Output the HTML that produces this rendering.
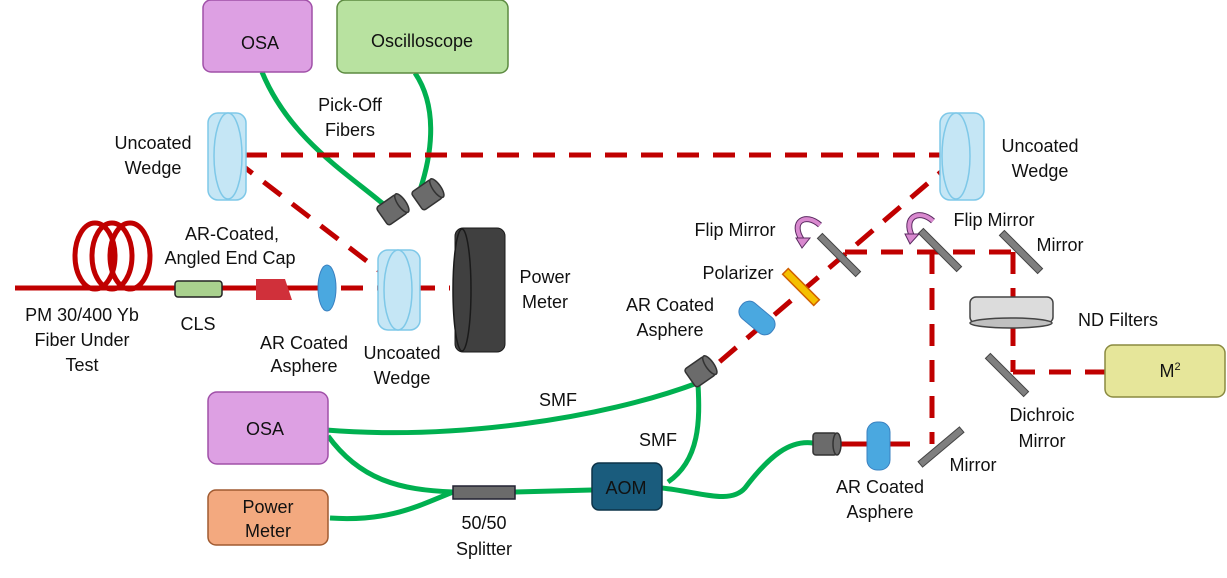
<!DOCTYPE html>
<html><head><style>
html,body{margin:0;padding:0;background:#fff;}
svg{display:block;}
text{font-family:"Liberation Sans",sans-serif;font-size:18px;fill:#111;text-anchor:middle;}
</style></head><body>
<svg width="1227" height="578" viewBox="0 0 1227 578" xmlns="http://www.w3.org/2000/svg">
<defs>
<g id="coll"><rect x="-12" y="-11" width="24" height="22" rx="3" fill="#6b6b6b" stroke="#333" stroke-width="1.5"/><ellipse cx="12" cy="0" rx="4" ry="11" fill="#6b6b6b" stroke="#333" stroke-width="1.5"/></g>
<g id="mir"><rect x="-3.5" y="-27" width="7" height="54" fill="#7f7f7f" stroke="#444" stroke-width="1"/></g>
</defs>

<!-- green fibers -->
<g fill="none" stroke="#00b050" stroke-width="5">
<path d="M262 72 C290 140 350 175 388 208"/>
<path d="M415 73 C440 110 430 160 420 190"/>
<path d="M326 430 C450 440 600 420 700 382"/>
<path d="M328 436 C360 480 400 490 453 492"/>
<path d="M330 518 C390 522 420 505 453 492"/>
<path d="M515 492 L592 490"/>
<path d="M668 482 C700 460 700 420 698 384"/>
<path d="M662 488 C700 492 730 505 745 488 C770 455 790 440 813 443"/>
</g>

<!-- solid fiber red -->
<g stroke="#c00000" fill="none" stroke-width="5">
<line x1="15" y1="288" x2="305" y2="288"/>
<ellipse cx="95" cy="256" rx="20" ry="33"/>
<ellipse cx="112" cy="256" rx="20" ry="33"/>
<ellipse cx="130" cy="256" rx="20" ry="33"/>
<line x1="840" y1="444" x2="910" y2="444"/>
</g>

<!-- dashed beams -->
<g stroke="#c00000" fill="none" stroke-width="5" stroke-dasharray="22,14">
<line x1="245" y1="155" x2="945" y2="155"/>
<line x1="235" y1="160" x2="398" y2="285"/>
<line x1="305" y1="288" x2="450" y2="288"/>
<line x1="955" y1="160" x2="710" y2="370"/>
<line x1="845" y1="252" x2="1015" y2="252"/>
<line x1="932" y1="252" x2="932" y2="444"/>
<line x1="1013" y1="252" x2="1013" y2="372"/>
<line x1="1013" y1="372" x2="1105" y2="372"/>
</g>

<!-- boxes -->
<rect x="203" y="0" width="109" height="72" rx="8" fill="#dda0e3" stroke="#a050a8" stroke-width="1.5"/>
<text x="260" y="49">OSA</text>
<rect x="337" y="0" width="171" height="73" rx="8" fill="#b8e2a0" stroke="#5c8a40" stroke-width="1.5"/>
<text x="422" y="47">Oscilloscope</text>
<rect x="208" y="392" width="120" height="72" rx="9" fill="#dda0e3" stroke="#a050a8" stroke-width="1.5"/>
<text x="265" y="435">OSA</text>
<rect x="208" y="490" width="120" height="55" rx="8" fill="#f3a97f" stroke="#a05a30" stroke-width="1.5"/>
<text x="268" y="513">Power</text><text x="268" y="537">Meter</text>
<rect x="453" y="486" width="62" height="13" fill="#6b6b6b" stroke="#223" stroke-width="1.5"/>
<rect x="592" y="463" width="70" height="47" rx="7" fill="#1a5c7d" stroke="#0d3348" stroke-width="1.5"/>
<text x="626" y="494">AOM</text>
<rect x="1105" y="345" width="120" height="52" rx="8" fill="#e6e69a" stroke="#8a8a40" stroke-width="1.5"/>
<text x="1170" y="377">M<tspan font-size="11" dy="-7">2</tspan></text>

<!-- fiber components -->
<rect x="175" y="281" width="47" height="16" rx="3" fill="#a9d18e" stroke="#222" stroke-width="1.5"/>
<polygon points="256,279 285,279 292,300 256,300" fill="#d0303a"/>
<ellipse cx="327" cy="288" rx="9" ry="23" fill="#4aa8e0" stroke="#3a80c0"/>
<!-- wedges -->
<g fill="#c5e6f5" stroke="#7ec8e8" stroke-width="1.5">
<rect x="208" y="113" width="38" height="87" rx="10"/>
<ellipse cx="228" cy="156" rx="14" ry="43"/>
<rect x="378" y="250" width="42" height="80" rx="10"/>
<ellipse cx="398" cy="290" rx="14" ry="40"/>
<rect x="940" y="113" width="44" height="87" rx="10"/>
<ellipse cx="956" cy="156" rx="14" ry="43"/>
</g>
<!-- power meter -->
<rect x="455" y="228" width="50" height="124" rx="8" fill="#404040" stroke="#1a1a1a"/>
<ellipse cx="462" cy="290" rx="9" ry="61" fill="#404040" stroke="#1a1a1a" stroke-width="1.5"/>

<!-- collimators -->
<use href="#coll" transform="translate(392,210) rotate(-35)"/>
<use href="#coll" transform="translate(427,195) rotate(-35)"/>
<use href="#coll" transform="translate(700,372) rotate(-35)"/>
<use href="#coll" transform="translate(825,444)"/>

<!-- right optics -->
<use href="#mir" transform="translate(839,255) rotate(-45)"/>
<use href="#mir" transform="translate(940,250) rotate(-45)"/>
<use href="#mir" transform="translate(1021,252) rotate(-45)"/>
<use href="#mir" transform="translate(1007,375) rotate(-45)"/>
<use href="#mir" transform="translate(941,447) rotate(50)"/>
<rect x="-4" y="-22" width="8" height="44" fill="#f5c000" stroke="#d06000" stroke-width="1.5" transform="translate(801,287) rotate(-45)"/>
<g transform="translate(757,318) rotate(40)"><rect x="-20" y="-10" width="40" height="20" rx="9" fill="#4aa8e0" stroke="#3a80c0"/></g>
<rect x="867" y="422" width="23" height="48" rx="10" fill="#4aa8e0" stroke="#3a80c0"/>
<!-- ND filter -->
<rect x="970" y="297" width="83" height="26" rx="6" fill="#dcdcdc" stroke="#444" stroke-width="1.5"/>
<ellipse cx="1011" cy="323" rx="41" ry="5" fill="#c0c0c0" stroke="#444" stroke-width="1.5"/>
<!-- flip arrows -->
<path d="M820 225 C805 212 790 222 802 240" fill="none" stroke="#5a2a60" stroke-width="6"/>
<path d="M820 225 C805 212 790 222 802 240" fill="none" stroke="#d989cf" stroke-width="4"/>
<polygon points="796,238 810,238 802,248" fill="#d989cf" stroke="#5a2a60"/>
<path d="M933 221 C918 208 903 218 912 236" fill="none" stroke="#5a2a60" stroke-width="6"/>
<path d="M933 221 C918 208 903 218 912 236" fill="none" stroke="#d989cf" stroke-width="4"/>
<polygon points="905,234 919,234 910,244" fill="#d989cf" stroke="#5a2a60"/>

<!-- labels -->
<text x="350" y="111">Pick-Off</text><text x="350" y="136">Fibers</text>
<text x="153" y="149">Uncoated</text><text x="153" y="174">Wedge</text>
<text x="232" y="240">AR-Coated,</text><text x="230" y="264">Angled End Cap</text>
<text x="82" y="321">PM 30/400 Yb</text><text x="82" y="346">Fiber Under</text><text x="82" y="371">Test</text>
<text x="198" y="330">CLS</text>
<text x="304" y="349">AR Coated</text><text x="304" y="372">Asphere</text>
<text x="402" y="359">Uncoated</text><text x="402" y="384">Wedge</text>
<text x="545" y="283">Power</text><text x="545" y="308">Meter</text>
<text x="1040" y="152">Uncoated</text><text x="1040" y="177">Wedge</text>
<text x="735" y="236">Flip Mirror</text>
<text x="994" y="226">Flip Mirror</text>
<text x="1060" y="251">Mirror</text>
<text x="738" y="279">Polarizer</text>
<text x="670" y="311">AR Coated</text><text x="670" y="336">Asphere</text>
<text x="1118" y="326">ND Filters</text>
<text x="1042" y="421">Dichroic</text><text x="1042" y="447">Mirror</text>
<text x="973" y="471">Mirror</text>
<text x="880" y="493">AR Coated</text><text x="880" y="518">Asphere</text>
<text x="558" y="406">SMF</text>
<text x="658" y="446">SMF</text>
<text x="484" y="529">50/50</text><text x="484" y="555">Splitter</text>
</svg>
</body></html>
